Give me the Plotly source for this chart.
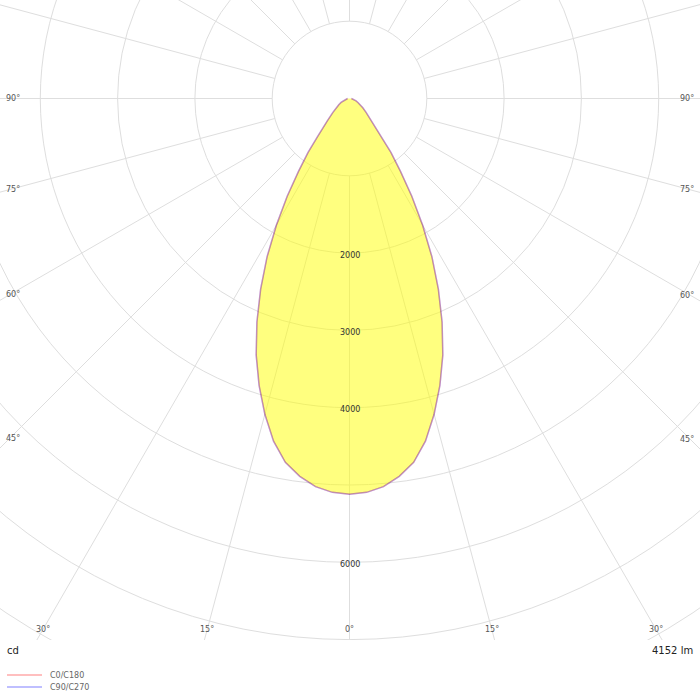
import numpy as np
import plotly.graph_objects as go

# luminous intensity table (cd), gamma angles in degrees
gamma = [0, 2.5, 5, 7.5, 10, 12.5, 15, 17.5, 20, 22.5, 25, 27.5, 30, 32.5, 35,
         37.5, 40, 42.5, 45, 50, 55, 60, 65, 70, 75, 80, 85, 90]
c0_c180 = [5120, 5100, 5040, 4930, 4780, 4540, 4230, 3890, 3530, 3130, 2720, 2310, 1890, 1500, 1150,
           880, 640, 500, 400, 280, 210, 160, 120, 90, 65, 45, 30, 25]
c90_c270 = [5120, 5100, 5040, 4930, 4780, 4540, 4230, 3890, 3530, 3130, 2720, 2310, 1890, 1500, 1150,
            880, 640, 500, 400, 280, 210, 160, 120, 90, 65, 45, 30, 25]
plane_names = ["C0/C180", "C90/C270"]
plane_colors = ["rgba(255,0,0,0.25)", "rgba(0,0,255,0.25)"]

# grid
ring_values = [1000, 2000, 3000, 4000, 5000, 6000, 7000, 8000, 9000]
ring_labels = [2000, 3000, 4000, 6000]
spoke_angles = list(range(0, 360, 15))
angle_labels = [90, 75, 60, 45, 30, 15, 0]
unit_text = "cd"
flux_text = "4152 lm"

# frame geometry (pixels)
PX_PER_CD = 77.3 / 1000
CX, CY = 349.5, 98.5
PLOT_W, PLOT_H = 700, 640
x_range = [-CX / PX_PER_CD, (PLOT_W - CX) / PX_PER_CD]
y_range = [-(PLOT_H - CY) / PX_PER_CD, CY / PX_PER_CD]

GRID = "#dedede"
FONT = "DejaVu Sans"


def to_xy(angles, values):
    a = np.radians(angles)
    v = np.asarray(values, dtype=float)
    return v * np.sin(a), -v * np.cos(a)


def full_plane(values):
    # mirror 0..90 onto -90..0 (both halves of the plane)
    ang = [-g for g in gamma[::-1]] + gamma[1:]
    val = list(values[::-1]) + list(values[1:])
    return to_xy(ang, val)


fig = go.Figure()

fx, fy = full_plane(c0_c180)
fig.add_trace(go.Scatter(
    x=fx, y=fy, mode="lines", fill="toself",
    fillcolor="rgba(255,255,0,0.5)", line=dict(width=0),
    hoverinfo="skip",
))

for name, color, values in zip(plane_names, plane_colors, [c0_c180, c90_c270]):
    px, py = full_plane(values)
    fig.add_trace(go.Scatter(x=px, y=py, mode="lines", name=name,
                             line=dict(color=color, width=1.5)))

# rings
for r in ring_values:
    fig.add_shape(type="circle", xref="x", yref="y", x0=-r, y0=-r, x1=r, y1=r,
                  line=dict(color=GRID, width=1), layer="below")

# spokes from the inner ring outwards
r_in, r_out = ring_values[0], 20000
for a in spoke_angles:
    (xa, xb), (ya, yb) = to_xy([a, a], [r_in, r_out])
    fig.add_shape(type="line", xref="x", yref="y", x0=xa, y0=ya, x1=xb, y1=yb,
                  line=dict(color=GRID, width=1), layer="below")

annotations = []
for v in ring_labels:
    annotations.append(dict(x=0, y=-v - 2 / PX_PER_CD, text=str(v), showarrow=False,
                            font=dict(family=FONT, size=8, color="#333")))

# angle labels where the spokes leave the frame
side_dx = 10 / PX_PER_CD
bottom_y = -(629 - CY) / PX_PER_CD
for a in angle_labels:
    t = np.radians(a)
    if a >= 45:
        for side in (-1, 1):
            edge = x_range[0] if side < 0 else x_range[1]
            xl = abs(edge) - side_dx
            y = -xl * np.cos(t) / np.sin(t)
            annotations.append(dict(
                x=edge - side * 4 / PX_PER_CD, y=y, text=f"{a}°", showarrow=False,
                xanchor="left" if side < 0 else "right",
                font=dict(family=FONT, size=8, color="#555")))
    else:
        sides = (1,) if a == 0 else (-1, 1)
        for side in sides:
            annotations.append(dict(
                x=side * abs(bottom_y) * np.tan(t), y=bottom_y, text=f"{a}°",
                showarrow=False, font=dict(family=FONT, size=8, color="#555")))

annotations.append(dict(xref="paper", yref="paper", x=5 / PLOT_W, y=-10 / PLOT_H,
                        text=unit_text, showarrow=False, xanchor="left", yanchor="middle",
                        font=dict(family=FONT, size=10, color="#222")))
annotations.append(dict(xref="paper", yref="paper", x=695 / PLOT_W, y=-10 / PLOT_H,
                        text=flux_text, showarrow=False, xanchor="right", yanchor="middle",
                        font=dict(family=FONT, size=10, color="#222")))

# small legend under the chart
for i, (name, color) in enumerate(zip(plane_names, plane_colors)):
    ly = -(675 + 12 * i - PLOT_H) / PLOT_H
    fig.add_shape(type="line", xref="paper", yref="paper",
                  x0=7 / PLOT_W, x1=42 / PLOT_W, y0=ly, y1=ly,
                  line=dict(color=color, width=2))
    annotations.append(dict(xref="paper", yref="paper", x=48 / PLOT_W, y=ly,
                            text=name, showarrow=False, xanchor="left", yanchor="middle",
                            font=dict(family=FONT, size=8, color="#666")))

fig.update_layout(
    width=700, height=700,
    margin=dict(l=0, r=0, t=0, b=700 - PLOT_H, pad=0),
    paper_bgcolor="white", plot_bgcolor="white",
    xaxis=dict(range=x_range, visible=False, fixedrange=True),
    yaxis=dict(range=y_range, visible=False, fixedrange=True),
    annotations=annotations,
    showlegend=False,
)

fig.write_html("out.html", config={"displayModeBar": False},
               post_script="document.body.style.margin='0';")
